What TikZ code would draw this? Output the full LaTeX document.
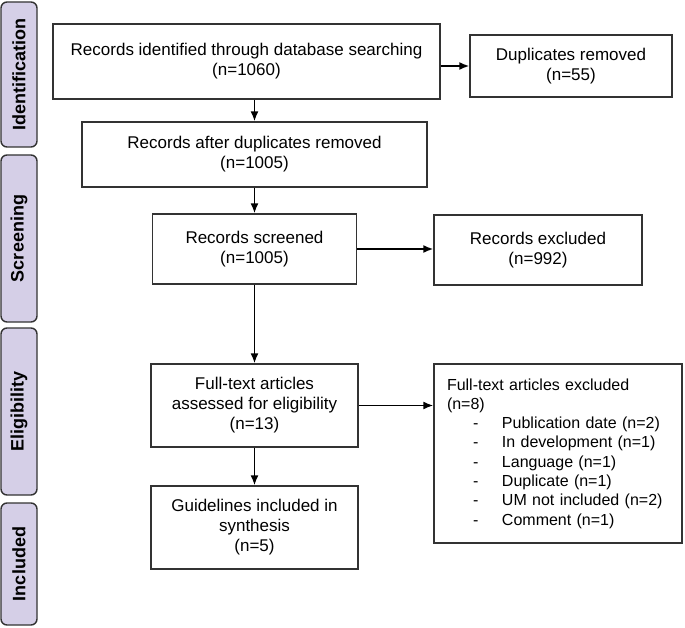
\documentclass[tikz,border=0pt]{standalone}
\usepackage{fontspec}
\setmainfont{Liberation Sans}
\usetikzlibrary{arrows.meta}
\definecolor{stagefill}{HTML}{D5CFE7}
\definecolor{edge}{HTML}{333333}
\begin{document}
\begin{tikzpicture}[x=1pt,y=-1pt,
        box/.style={draw=edge,line width=1.4pt,align=center,inner sep=0pt,
            font=\fontsize{17}{20}\selectfont},
        stage/.style={draw=edge,fill=stagefill,line width=1.4pt,rounded corners=6pt,
            rotate=90,minimum height=36pt,inner sep=0pt,
            font=\fontsize{18}{20}\selectfont\bfseries}]
        \useasboundingbox (0,0) rectangle (685,628);
        % stages on the left
        \node[stage,minimum width=145pt] (sid) at (19,74.5) {Identification};
        \node[stage,minimum width=167pt] (sscr) at (19,238.5) {Screening};
        \node[stage,minimum width=167pt] (selig) at (19,411.5) {Eligibility};
        \node[stage,minimum width=122pt] (sinc) at (19,564) {Included};

        \node[box,minimum width=387pt,minimum height=75pt] (found) at (246.5,61.5)
            {Records identified through database searching\\(n=1060)};
        \node[box,minimum width=202pt,minimum height=62pt] (dup) at (571,66)
            {Duplicates removed\\(n=55)};
        \node[box,minimum width=345pt,minimum height=65pt] (after) at (254.5,154.5)
            {Records after duplicates removed\\(n=1005)};
        \node[box,minimum width=204pt,minimum height=70pt] (scr) at (254.5,249)
            {Records screened\\(n=1005)};
        \node[box,minimum width=208pt,minimum height=70pt] (excl) at (538,250)
            {Records excluded\\(n=992)};
        \node[box,minimum width=207pt,minimum height=83pt] (full) at (254.5,405.5)
            {Full-text articles\\assessed for eligibility\\(n=13)};
        \node[box,minimum width=207pt,minimum height=83pt] (incl) at (254.5,527.5)
            {Guidelines included in\\synthesis\\(n=5)};
        \node[box,minimum width=248pt,minimum height=179pt,inner xsep=13pt,
            text width=222pt,align=left,font=\fontsize{16}{19.3}\selectfont] (ftex) at (558,453.5)
            {Full-text articles excluded\\(n=8)\\
            \hspace*{26pt}\makebox[29pt][l]{-}Publication date (n=2)\\
            \hspace*{26pt}\makebox[29pt][l]{-}In development (n=1)\\
            \hspace*{26pt}\makebox[29pt][l]{-}Language (n=1)\\
            \hspace*{26pt}\makebox[29pt][l]{-}Duplicate (n=1)\\
            \hspace*{26pt}\makebox[29pt][l]{-}UM not included (n=2)\\
            \hspace*{26pt}\makebox[29pt][l]{-}Comment (n=1)};

        \begin{scope}[line width=1.6pt,black,-{Latex[length=10pt,width=8pt]}]
            \draw (dup.west -| found.east) -- (dup.west);
            \draw (found.south -| after.north) -- (after.north);
            \draw (after.south -| scr.north) -- (scr.north);
            \draw (scr.east) -- (scr.east -| excl.west);
            \draw (scr.south) -- (full.north);
            \draw (full.east) -- (full.east -| ftex.west);
            \draw (full.south) -- (incl.north);
        \end{scope}
    \end{tikzpicture}
\end{document}
